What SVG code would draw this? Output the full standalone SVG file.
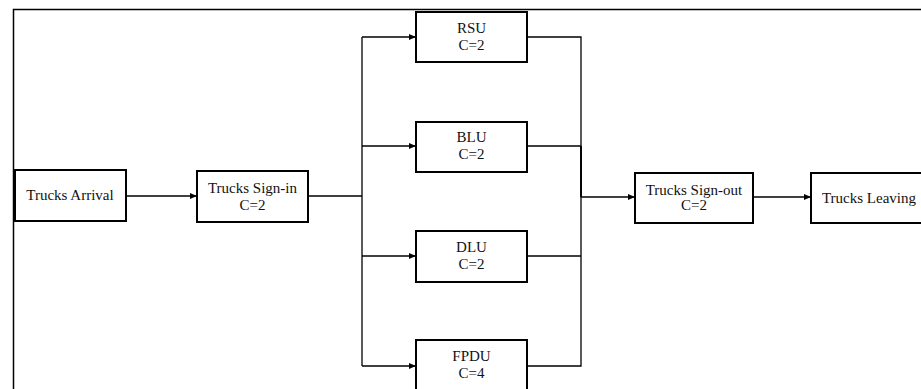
<svg xmlns="http://www.w3.org/2000/svg" width="921" height="389" viewBox="0 0 921 389">
<style>
.box{fill:#fff;stroke:#000;stroke-width:2}
.ln{fill:none;stroke:#000;stroke-width:1.3}
.frame{fill:none;stroke:#000;stroke-width:1.5}
text{font-family:"Liberation Serif","Times New Roman",serif;font-size:15px;fill:#111;text-anchor:middle}
</style>
<defs>
<marker id="arr" markerWidth="7" markerHeight="6" refX="7" refY="3" orient="auto" markerUnits="userSpaceOnUse">
<path d="M0,0 L7,3 L0,6 z" fill="#000"/>
</marker>
</defs>
<path class="frame" d="M13.5,389 V9.5 H921"/>
<g id="connectors">
<path class="ln" d="M126,196 H197" marker-end="url(#arr)"/>
<path class="ln" d="M308,196 H362"/>
<path class="ln" d="M362,37 V366"/>
<path class="ln" d="M362,37 H416" marker-end="url(#arr)"/>
<path class="ln" d="M362,146 H416" marker-end="url(#arr)"/>
<path class="ln" d="M362,256 H416" marker-end="url(#arr)"/>
<path class="ln" d="M362,366 H416" marker-end="url(#arr)"/>
<path class="ln" d="M527,37 H581 V366 H527"/>
<path class="ln" d="M527,146 H581"/>
<path class="ln" d="M527,256 H581"/>
<path class="ln" d="M581,146 V197" style="stroke-width:1.9"/>
<path class="ln" d="M581,197 H635" marker-end="url(#arr)" style="stroke-width:1.6"/>
<path class="ln" d="M753,197 H811" marker-end="url(#arr)"/>
</g>
<g id="arrival"><rect class="box" x="15" y="170" width="111" height="51"/><text x="70" y="200">Trucks Arrival</text></g>
<g id="signin"><rect class="box" x="197" y="171" width="111" height="51"/><text x="252.5" y="193">Trucks Sign-in</text><text x="252.5" y="210">C=2</text></g>
<g id="rsu"><rect class="box" x="416" y="12" width="111" height="50"/><text x="471.5" y="33">RSU</text><text x="471.5" y="50">C=2</text></g>
<g id="blu"><rect class="box" x="416" y="122" width="111" height="50"/><text x="471.5" y="142">BLU</text><text x="471.5" y="159">C=2</text></g>
<g id="dlu"><rect class="box" x="416" y="231" width="111" height="51"/><text x="471.5" y="252">DLU</text><text x="471.5" y="269">C=2</text></g>
<g id="fpdu"><rect class="box" x="416" y="340" width="111" height="51"/><text x="471.5" y="361">FPDU</text><text x="471.5" y="378">C=4</text></g>
<g id="signout"><rect class="box" x="635" y="173" width="118" height="50"/><text x="694" y="195">Trucks Sign-out</text><text x="694" y="210">C=2</text></g>
<g id="leaving"><rect class="box" x="811" y="173" width="120" height="50"/><text x="869" y="203">Trucks Leaving</text></g>
</svg>
